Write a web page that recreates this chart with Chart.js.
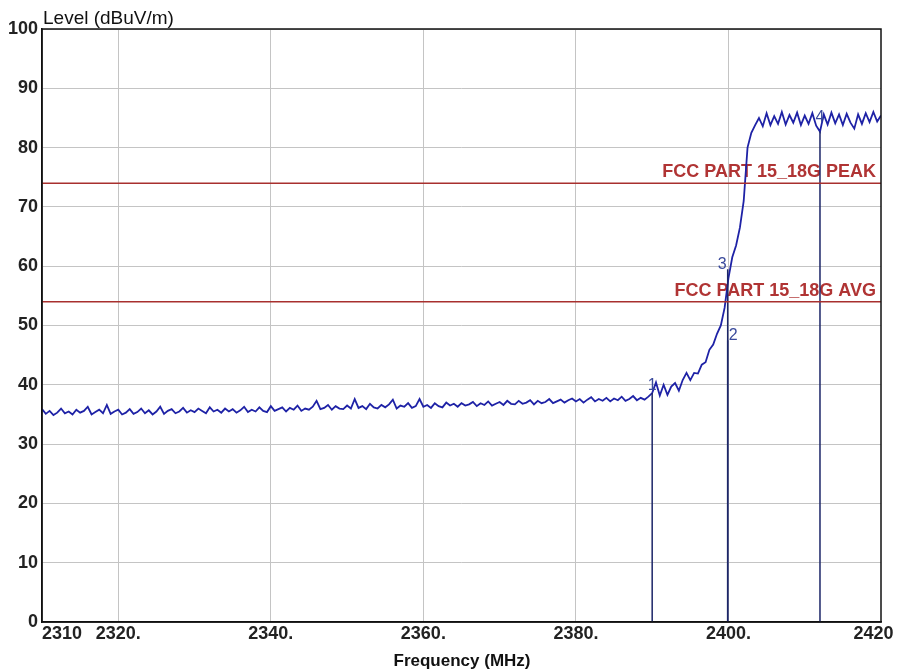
<!DOCTYPE html>
<html>
<head>
<meta charset="utf-8">
<script src="https://cdn.jsdelivr.net/npm/chart.js@4.4.0/dist/chart.umd.min.js"></script>
<style>
  html, body { margin: 0; padding: 0; background: #fff; }
  #wrap { position: relative; width: 898px; height: 672px; }
</style>
</head>
<body>
<div id="wrap"><canvas id="scan"></canvas></div>
<script>
// sweep points (MHz)
const freqs = [
  2310, 2310.5, 2311, 2311.5, 2312, 2312.5, 2313, 2313.5, 2314, 2314.5,
  2315, 2315.5, 2316, 2316.5, 2317, 2317.5, 2318, 2318.5, 2319, 2319.5,
  2320, 2320.5, 2321, 2321.5, 2322, 2322.5, 2323, 2323.5, 2324, 2324.5,
  2325, 2325.5, 2326, 2326.5, 2327, 2327.5, 2328, 2328.5, 2329, 2329.5,
  2330, 2330.5, 2331, 2331.5, 2332, 2332.5, 2333, 2333.5, 2334, 2334.5,
  2335, 2335.5, 2336, 2336.5, 2337, 2337.5, 2338, 2338.5, 2339, 2339.5,
  2340, 2340.5, 2341, 2341.5, 2342, 2342.5, 2343, 2343.5, 2344, 2344.5,
  2345, 2345.5, 2346, 2346.5, 2347, 2347.5, 2348, 2348.5, 2349, 2349.5,
  2350, 2350.5, 2351, 2351.5, 2352, 2352.5, 2353, 2353.5, 2354, 2354.5,
  2355, 2355.5, 2356, 2356.5, 2357, 2357.5, 2358, 2358.5, 2359, 2359.5,
  2360, 2360.5, 2361, 2361.5, 2362, 2362.5, 2363, 2363.5, 2364, 2364.5,
  2365, 2365.5, 2366, 2366.5, 2367, 2367.5, 2368, 2368.5, 2369, 2369.5,
  2370, 2370.5, 2371, 2371.5, 2372, 2372.5, 2373, 2373.5, 2374, 2374.5,
  2375, 2375.5, 2376, 2376.5, 2377, 2377.5, 2378, 2378.5, 2379, 2379.5,
  2380, 2380.5, 2381, 2381.5, 2382, 2382.5, 2383, 2383.5, 2384, 2384.5,
  2385, 2385.5, 2386, 2386.5, 2387, 2387.5, 2388, 2388.5, 2389, 2389.5,
  2390, 2390.5, 2391, 2391.5, 2392, 2392.5, 2393, 2393.5, 2394, 2394.5,
  2395, 2395.5, 2396, 2396.5, 2397, 2397.5, 2398, 2398.5, 2399, 2399.5,
  2400, 2400.5, 2401, 2401.5, 2402, 2402.5, 2403, 2403.5, 2404, 2404.5,
  2405, 2405.5, 2406, 2406.5, 2407, 2407.5, 2408, 2408.5, 2409, 2409.5,
  2410, 2410.5, 2411, 2411.5, 2412, 2412.5, 2413, 2413.5, 2414, 2414.5,
  2415, 2415.5, 2416, 2416.5, 2417, 2417.5, 2418, 2418.5, 2419, 2419.5,
  2420
];

// measured level (dBuV/m)
const levels = [
  35.9, 35.1, 35.6, 34.9, 35.3, 36.0, 35.2, 35.5, 35.0, 35.8,
  35.3, 35.6, 36.3, 35.0, 35.4, 35.8, 35.2, 36.6, 35.1, 35.5,
  35.8, 35.0, 35.3, 35.9, 35.1, 35.4, 36.0, 35.2, 35.7, 35.0,
  35.5, 36.3, 35.1, 35.6, 35.9, 35.2, 35.5, 36.1, 35.3, 35.7,
  35.4, 36.0, 35.6, 35.2, 36.2, 35.5, 35.8, 35.3, 36.0, 35.5,
  35.9, 35.3, 35.7, 36.3, 35.4, 35.8, 35.5, 36.2, 35.6, 35.4,
  36.4, 35.6, 35.9, 36.2, 35.5, 36.1, 35.8, 36.5, 35.6, 36.0,
  35.8, 36.3, 37.3, 35.9, 36.1, 36.6, 35.8, 36.4, 36.0, 35.9,
  36.5, 36.0, 37.6, 36.1, 36.4, 35.9, 36.8, 36.2, 36.0, 36.6,
  36.2, 36.7, 37.5, 36.0, 36.5, 36.3, 36.9, 36.1, 36.4, 37.6,
  36.3, 36.6, 36.1, 36.9, 36.4, 36.2, 37.0, 36.5, 36.8, 36.3,
  36.9, 36.5, 36.7, 37.1, 36.4, 36.9, 36.6, 37.2, 36.5, 36.8,
  37.1, 36.6, 37.3, 36.8, 36.7, 37.3, 36.8, 37.0, 37.4, 36.7,
  37.3, 36.9, 37.1, 37.6, 36.9, 37.2, 37.5, 37.0, 37.4, 37.7,
  37.2, 37.6, 37.0, 37.5, 37.9, 37.2, 37.6, 37.3, 37.8, 37.2,
  37.7, 37.4, 38.0, 37.3, 37.6, 38.1, 37.4, 37.8, 37.5, 38.0,
  38.6, 40.4, 38.2, 40.0, 38.3, 39.7, 40.3, 39.0, 40.8, 42.0,
  40.8, 42.0, 41.9, 43.4, 43.8, 45.9, 46.8, 48.6, 50.0, 53.0,
  58.0, 61.5, 63.5, 66.5, 71.0, 80.0, 82.5, 83.8, 85.0, 83.6,
  85.8, 83.8, 85.3, 84.0, 86.0, 83.9, 85.5, 84.2, 85.9, 83.8,
  85.4, 84.0, 85.8, 83.7, 82.7, 85.6, 83.9, 85.9, 84.1, 85.6,
  83.8, 85.7, 84.2, 83.2, 85.6, 84.0, 85.8, 84.3, 86.0, 84.4,
  85.4
];

// markers
const markerNames = ["1", "2", "3", "4"];
const markerFreqs = [2390, 2399.9, 2399.9, 2412];
const markerLevels = [38.6, 47.5, 59.5, 82.7];

// limit lines
const limitNames = ["FCC PART 15_18G PEAK", "FCC PART 15_18G AVG"];
const limitLevels = [74, 54];

const xTicks = [2310, 2320, 2340, 2360, 2380, 2400, 2420];
const xTickLabels = ["2310", "2320.", "2340.", "2360.", "2380.", "2400.", "2420"];
const yMin = 0, yMax = 100, yStep = 10;

const FONT = "'Liberation Sans', Arial, sans-serif";

const tracePoints = freqs.map((f, i) => ({ x: f, y: levels[i] }));

const limitSets = limitLevels.map((lv, i) => ({
  label: limitNames[i],
  data: [{ x: xTicks[0], y: lv }, { x: xTicks[xTicks.length - 1], y: lv }],
  borderColor: "#a8302e",
  borderWidth: 1.5,
  pointRadius: 0,
}));

const markerSets = markerFreqs.map((f, i) => ({
  label: "M" + markerNames[i],
  data: [{ x: f, y: markerLevels[i] }, { x: f, y: yMin }],
  borderColor: "#1c2668",
  borderWidth: 1.5,
  pointRadius: 0,
}));

const framePlugin = {
  id: "frame",
  beforeDatasetsDraw(chart) {
    const { ctx, chartArea, scales } = chart;
    ctx.save();
    ctx.font = "bold 18px " + FONT;
    ctx.fillStyle = "#b03434";
    ctx.textAlign = "right";
    ctx.textBaseline = "alphabetic";
    limitLevels.forEach((lv, i) => {
      ctx.fillText(limitNames[i], chartArea.right - 5, scales.y.getPixelForValue(lv) - 6);
    });
    ctx.restore();
  },
  afterDraw(chart) {
    const { ctx, chartArea, scales } = chart;
    ctx.save();
    ctx.strokeStyle = "#111";
    ctx.lineWidth = 1.5;
    ctx.strokeRect(chartArea.left, chartArea.top, chartArea.right - chartArea.left, chartArea.bottom - chartArea.top);

    // marker numbers
    ctx.font = "16px " + FONT;
    ctx.fillStyle = "#3a4a9c";
    ctx.textBaseline = "middle";
    const offs = [[0, -8, "center"], [1, -5, "left"], [-1, -5, "right"], [0, -14, "center"]];
    markerFreqs.forEach((f, i) => {
      ctx.textAlign = offs[i][2];
      ctx.fillText(markerNames[i], scales.x.getPixelForValue(f) + offs[i][0], scales.y.getPixelForValue(markerLevels[i]) + offs[i][1]);
    });

    // axis titles
    ctx.fillStyle = "#111";
    ctx.font = "19px " + FONT;
    ctx.textAlign = "left";
    ctx.textBaseline = "alphabetic";
    ctx.fillText("Level (dBuV/m)", chartArea.left + 1, chartArea.top - 5);
    ctx.textAlign = "center";
    ctx.textBaseline = "middle";
    ctx.font = "bold 17px " + FONT;
    ctx.fillText("Frequency (MHz)", 462, 661);
    ctx.restore();
  },
};

new Chart(document.getElementById("scan"), {
  type: "line",
  data: {
    datasets: [
      ...limitSets,
      ...markerSets,
      {
        label: "Level",
        data: tracePoints,
        borderColor: "#1e22a6",
        borderWidth: 1.8,
        pointRadius: 0,
        tension: 0,
      },
    ],
  },
  options: {
    responsive: true,
    maintainAspectRatio: false,
    animation: false,
    layout: { padding: { left: 0, top: 29, right: 17, bottom: 0 } },
    plugins: { legend: { display: false }, tooltip: { enabled: false } },
    scales: {
      x: {
        type: "linear",
        min: xTicks[0],
        max: xTicks[xTicks.length - 1],
        afterBuildTicks(scale) {
          scale.ticks = xTicks.map((v) => ({ value: v }));
        },
        afterFit(scale) {
          scale.height = 50;
          scale.paddingLeft = 0;
          scale.paddingRight = 0;
        },
        grid: {
          drawTicks: false,
          color: (c) => (c.tick && (c.tick.value === xTicks[0] || c.tick.value === xTicks[xTicks.length - 1]) ? "rgba(0,0,0,0)" : "#c4c4c4"),
          lineWidth: 1,
        },
        border: { display: true, color: "#111", width: 1.5 },
        ticks: {
          autoSkip: false,
          maxRotation: 0,
          padding: 1,
          color: "#222",
          font: { family: FONT, size: 18, weight: "bold" },
          callback: (v) => {
            const i = xTicks.indexOf(v);
            if (i === 0) return "\u2007\u2007\u2007\u2007" + xTickLabels[i];
            if (i === xTicks.length - 1) return xTickLabels[i] + "\u2007 ";
            return i >= 0 ? xTickLabels[i] : "";
          },
        },
      },
      y: {
        min: yMin,
        max: yMax,
        afterFit(scale) { scale.width = 42; },
        grid: { drawTicks: false, color: "#c4c4c4", lineWidth: 1 },
        border: { display: true, color: "#111", width: 1.5 },
        ticks: {
          stepSize: yStep,
          padding: 4,
          color: "#222",
          font: { family: FONT, size: 18, weight: "bold" },
        },
      },
    },
  },
  plugins: [framePlugin],
});
</script>
</body>
</html>
